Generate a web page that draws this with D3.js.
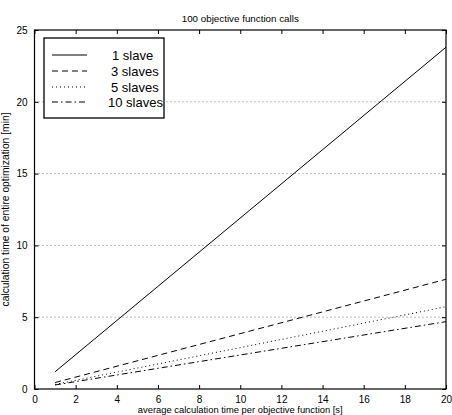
<!DOCTYPE html>
<html><head><meta charset="utf-8">
<script src="https://cdn.jsdelivr.net/npm/d3@7"></script>
<style>body{margin:0;background:#fff}svg{display:block}</style>
</head><body><svg id="c" width="452" height="415" font-family="Liberation Sans, Arial, sans-serif"></svg>
<script>
const xTicks = [0,2,4,6,8,10,12,14,16,18,20];
const yTicks = [0,5,10,15,20,25];
const gridY = [5,10,15,20];
const seriesNames = ["1 slave","3 slaves","5 slaves","10 slaves"];
const xs = [1,20];
const s1 = [1.2,23.8];
const s3 = [0.45,7.64];
const s5 = [0.32,5.73];
const s10 = [0.28,4.69];
const dashes = [null,"6,4","1,3","6,3,1.5,3"];
const allSeries = [s1,s3,s5,s10];
const FF = "Liberation Sans, Arial, sans-serif";

const svg = d3.select("#c");
const L=34.5,R=446,T=30,B=389;
const x = d3.scaleLinear().domain([0,20]).range([L,R]);
const y = d3.scaleLinear().domain([0,25]).range([B,T]);

// grid
svg.selectAll(".g").data(gridY).enter().append("line")
  .attr("x1",L).attr("x2",R).attr("y1",d=>y(d)).attr("y2",d=>y(d))
  .attr("stroke","#555").attr("stroke-width",0.8).attr("stroke-dasharray","1,3");

// axes
const ax = d3.axisBottom(x).tickValues(xTicks).tickSizeInner(-4).tickSizeOuter(0).tickPadding(7);
const gx = svg.append("g").attr("transform",`translate(0,${B})`).call(ax);
const axT = d3.axisTop(x).tickValues(xTicks).tickSizeInner(-4).tickSizeOuter(0).tickFormat("");
const gxt = svg.append("g").attr("transform",`translate(0,${T})`).call(axT);
const ay = d3.axisLeft(y).tickValues(yTicks).tickSizeInner(-4).tickSizeOuter(0).tickPadding(7);
const gy = svg.append("g").attr("transform",`translate(${L},0)`).call(ay);
const ayR = d3.axisRight(y).tickValues(yTicks).tickSizeInner(-4).tickSizeOuter(0).tickFormat("");
const gyr = svg.append("g").attr("transform",`translate(${R},0)`).call(ayR);
[gx,gxt,gy,gyr].forEach(g=>{
  g.select(".domain").remove();
  g.selectAll("line").attr("stroke","#000").attr("stroke-width",1);
  g.selectAll("text").attr("font-size",10).attr("fill","#000").attr("font-family",FF);
});
svg.append("rect").attr("x",L).attr("y",T).attr("width",R-L).attr("height",B-T)
  .attr("fill","none").attr("stroke","#000").attr("stroke-width",1.2);

// lines
const line = d3.line().x(d=>x(d[0])).y(d=>y(d[1]));
allSeries.forEach((s,i)=>{
  svg.append("path").datum(xs.map((v,j)=>[v,s[j]]))
    .attr("d",line).attr("fill","none").attr("stroke","#000").attr("stroke-width",1)
    .attr("stroke-dasharray",dashes[i]);
});

// legend
const lg = svg.append("g");
lg.append("rect").attr("x",44).attr("y",38).attr("width",120).attr("height",80)
  .attr("fill","#fff").attr("stroke","#000").attr("stroke-width",1.3);
const ly = [55,71,87,102];
seriesNames.forEach((n,i)=>{
  lg.append("line").attr("x1",52).attr("x2",87).attr("y1",ly[i]).attr("y2",ly[i])
    .attr("stroke","#000").attr("stroke-width",1).attr("stroke-dasharray",dashes[i]);
  lg.append("text").attr("x",i==3?108:(i==0?112:111)).attr("y",ly[i]+4.5).attr("font-size",13).attr("font-family",FF).text(n);
});

// titles
svg.append("text").attr("x",(L+R)/2).attr("y",22).attr("text-anchor","middle").attr("font-size",9.8).attr("font-family",FF).text("100 objective function calls");
svg.append("text").attr("x",(L+R)/2).attr("y",413).attr("text-anchor","middle").attr("font-size",9.4).attr("font-family",FF).text("average calculation time per objective function [s]");
svg.append("text").attr("transform",`translate(9,${(T+B)/2}) rotate(-90)`).attr("text-anchor","middle").attr("font-size",10.3).attr("font-family",FF).text("calculation time of entire optimization [min]");
</script></body></html>
